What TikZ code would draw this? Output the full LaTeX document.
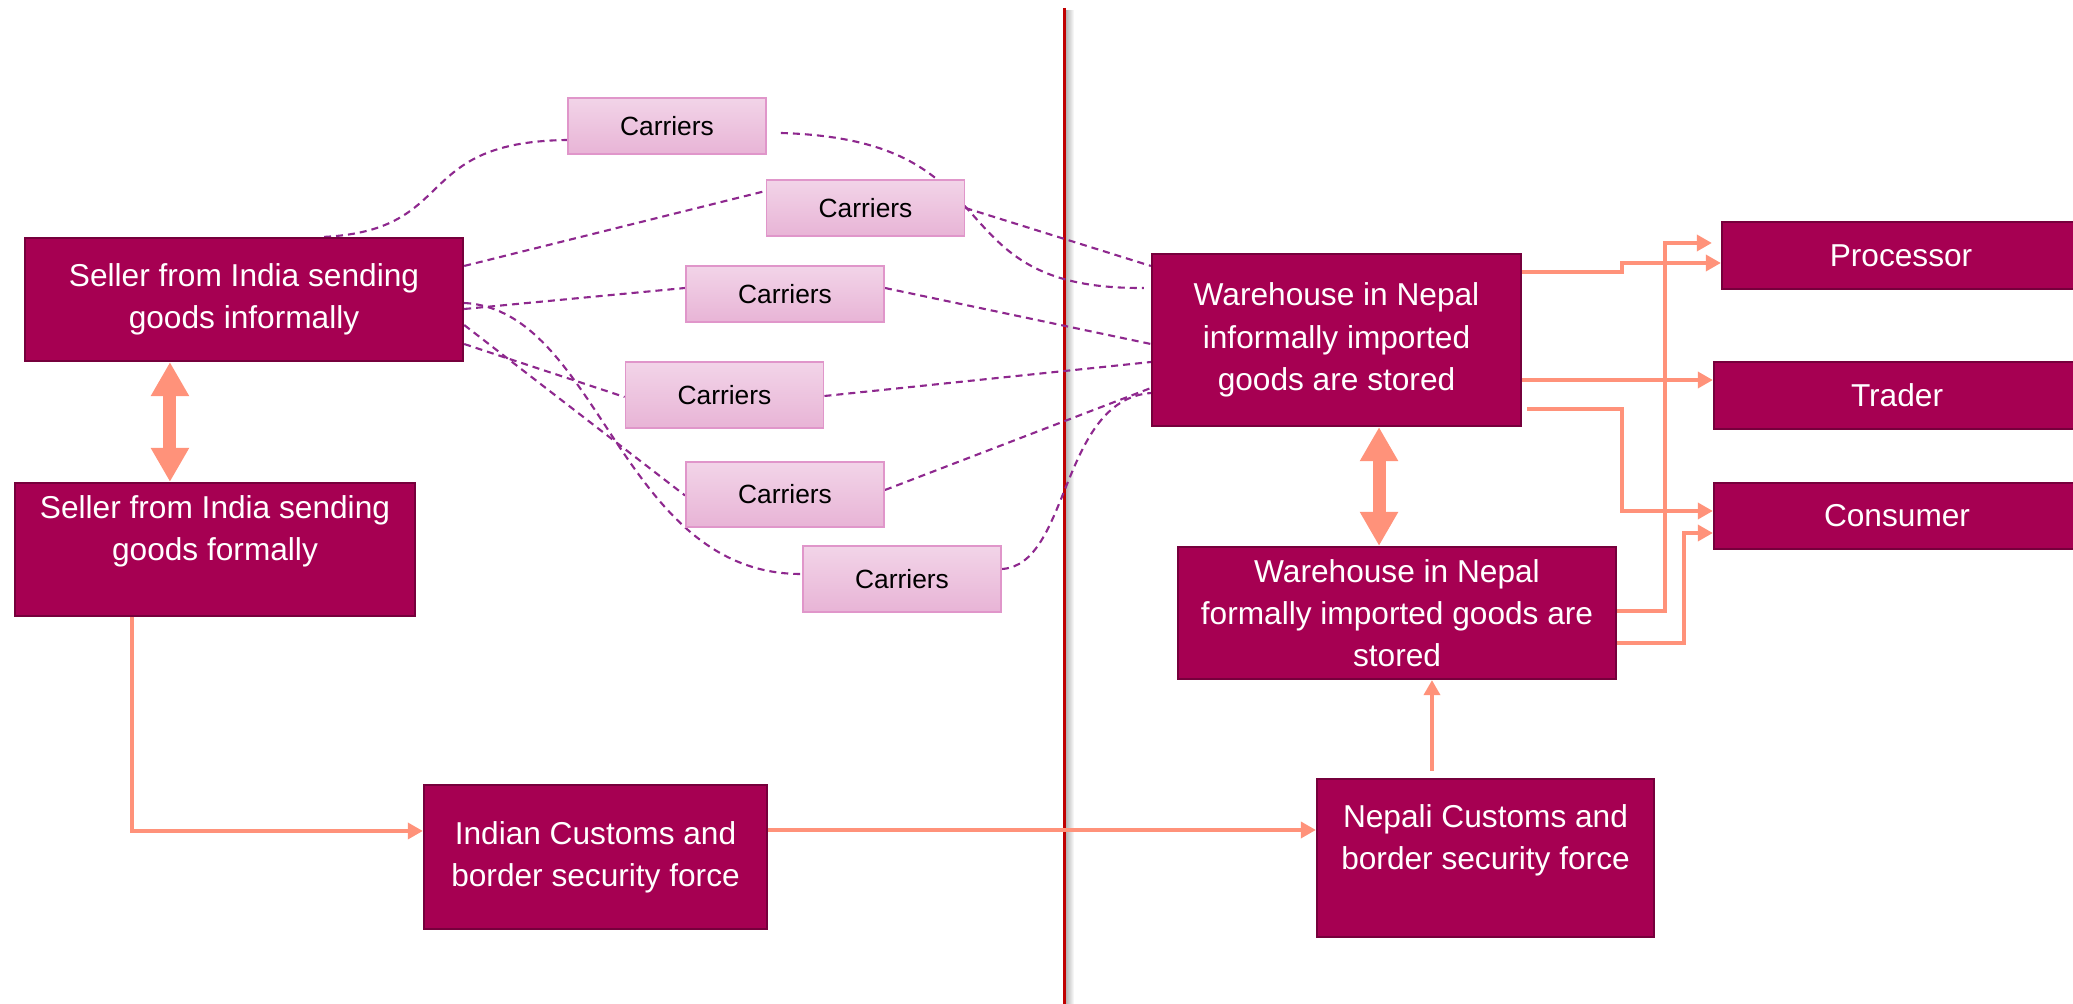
\documentclass[tikz,border=0pt]{standalone}
\usepackage{fontspec}
\setmainfont{Liberation Sans}
\usetikzlibrary{arrows.meta,backgrounds}

\definecolor{boxfill}{RGB}{166,0,82}
\definecolor{boxedge}{RGB}{118,0,60}
\definecolor{carrtop}{RGB}{242,212,232}
\definecolor{carrbot}{RGB}{232,180,214}
\definecolor{carredge}{RGB}{224,150,202}
\definecolor{dashc}{RGB}{142,40,142}
\definecolor{flowc}{RGB}{255,146,122}
\definecolor{frontierc}{RGB}{192,0,0}

\tikzset{
	box/.style 2 args={draw=boxedge,fill=boxfill,text=white,align=center,inner sep=0pt,
		line width=0.6pt,minimum width=#1,minimum height=#2,font=\fontsize{9}{12}\selectfont},
	carrier/.style={draw=carredge,top color=carrtop,bottom color=carrbot,inner sep=0pt,
		line width=0.5pt,minimum width=1.98cm,font=\fontsize{7.5}{9}\selectfont},
	carry/.style={draw=dashc,line width=0.6pt,dash pattern=on 0.07cm off 0.05cm},
	flow/.style={draw=flowc,line width=1pt},
	fathead/.tip={Triangle[width=0.36cm,length=0.34cm]},
	fat/.style={draw=flowc,line width=0.13cm,fathead-fathead},
}

\begin{document}
\begin{tikzpicture}[x=0.01cm,y=-0.01cm,>={Triangle[length=0.15cm,width=0.16cm]}]
\useasboundingbox (0,0) rectangle (2073,1004);

\node[box={4.38cm}{1.23cm}] (selI) at (244,299.5) {Seller from India sending\\goods informally};
\node[box={4cm}{1.33cm}] (selF) at (215,549.5) {Seller from India sending\\goods formally\\~};
\node[box={3.43cm}{1.44cm}] (indC) at (595.5,857) {Indian Customs and\\border security force};
\node[box={3.37cm}{1.58cm}] (nepC) at (1485.5,858) {Nepali Customs and\\border security force\\~};
\node[box={3.69cm}{1.72cm}] (win) at (1336.5,340) {Warehouse in Nepal\\informally imported\\goods are stored};
\node[box={4.38cm}{1.32cm}] (wfor) at (1397,613) {Warehouse in Nepal\\formally imported goods are\\stored};
\node[box={3.58cm}{0.67cm}] (proc) at (1901,255.5) {Processor};
\node[box={3.66cm}{0.67cm}] (trad) at (1897,395.5) {Trader};
\node[box={3.66cm}{0.66cm}] (cons) at (1897,516) {Consumer};

\foreach \n/\x/\y/\h in {1/667/126/0.56,2/865.5/208/0.56,3/785/294/0.56,4/724.5/395/0.66,5/785/494.5/0.65,6/902/579/0.66}{
	\node[carrier,minimum height=\h cm] (c\n) at (\x,\y) {Carriers};
}

\begin{pgfonlayer}{background}
\draw[frontierc,line width=0.03cm] (1064,8) -- (1064,1004);
\foreach \d [evaluate=\d as \o using 0.32-0.035*\d] in {1,...,8}{
	\draw[black,opacity=\o,line width=0.01cm] ({1065.5+\d},10) -- ({1065.5+\d},1004);
}
\draw[carry] ([xshift=0.8cm]selI.north) .. controls (460,230) and (410,142) .. ([yshift=-0.14cm]c1.west);
\draw[carry] ([shift={(0.14cm,-0.07cm)}]c1.east) .. controls (1020,140) and (930,290) .. ([shift={(-0.07cm,0.52cm)}]win.west);
\draw[carry] ([yshift=0.335cm]selI.east) -- ([yshift=0.17cm]c2.west);
\draw[carry] (c2.east) -- ([yshift=0.74cm]win.west);
\draw[carry] ([yshift=-0.095cm]selI.east) -- ([yshift=0.06cm]c3.west);
\draw[carry] ([yshift=0.06cm]c3.east) -- ([yshift=-0.04cm]win.west);
\draw[carry] ([yshift=-0.445cm]selI.east) -- ([yshift=-0.02cm]c4.west);
\draw[carry] ([yshift=-0.01cm]c4.east) -- ([yshift=-0.22cm]win.west);
\draw[carry] ([yshift=-0.255cm]selI.east) -- ([yshift=-0.01cm]c5.west);
\draw[carry] ([yshift=0.045cm]c5.east) -- ([yshift=-0.48cm]win.west);
\draw[carry] ([yshift=-0.035cm]selI.east) .. controls (600,310) and (620,575) .. ([yshift=0.05cm]c6.west);
\draw[carry] ([yshift=0.1cm]c6.east) .. controls (1070,565) and (1060,400) .. ([yshift=-0.53cm]win.west);
\end{pgfonlayer}

\draw[flow,->] ([xshift=-0.83cm]selF.south) |- ([yshift=0.26cm]indC.west);
\draw[flow,->] ([yshift=0.27cm]indC.east) -- ([yshift=0.27cm]indC.east -| nepC.west);
\draw[flow,->] ([shift={(-0.535cm,0.07cm)}]nepC.north) -- ([xshift=-0.535cm]nepC.north |- wfor.south);
\draw[flow,->] ([yshift=0.68cm]win.east) -- ++(100,0) |- ([yshift=-0.075cm]proc.west);
\draw[flow,->] ([yshift=-0.4cm]win.east) -- ([yshift=-0.4cm]win.east -| trad.west);
\draw[flow,->] ([shift={(0.05cm,-0.69cm)}]win.east) -- ++(95,0) |- ([yshift=0.05cm]cons.west);
\draw[flow,->] ([yshift=0.02cm]wfor.east) -- ++(48,0) |- ([shift={(-0.09cm,0.125cm)}]proc.west);
\draw[flow,->] ([yshift=-0.3cm]wfor.east) -- ++(67,0) |- ([yshift=-0.17cm]cons.west);

\draw[fat] ([xshift=-0.74cm]selI.south) -- ([xshift=-0.74cm]selI.south |- selF.north);
\draw[fat] ([xshift=0.425cm]win.south) -- ([xshift=0.425cm]win.south |- wfor.north);
\end{tikzpicture}
\end{document}
